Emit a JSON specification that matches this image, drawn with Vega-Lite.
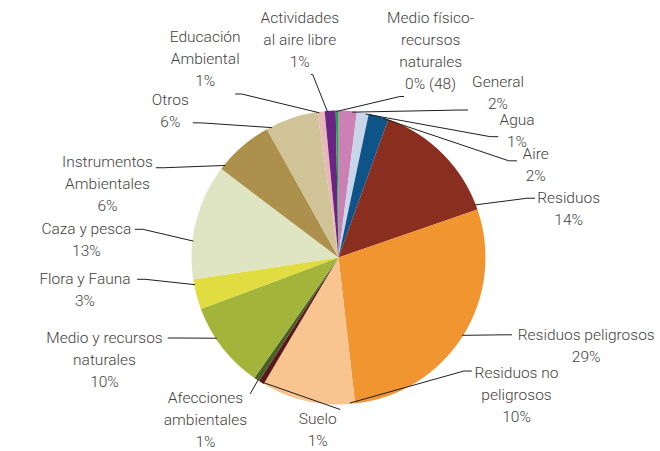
{
  "$schema": "https://vega.github.io/schema/vega-lite/v6.json",
  "width": 660,
  "height": 451,
  "autosize": "none",
  "padding": 0,
  "background": "white",
  "config": {"view": {"stroke": null}},
  "data": {
    "values": [
      {"order": 1, "cat": "General", "value": 2.0, "label": "General\n2%"},
      {"order": 2, "cat": "Agua", "value": 1.3, "label": "Agua\n1%"},
      {"order": 3, "cat": "Aire", "value": 2.2, "label": "Aire\n2%"},
      {"order": 4, "cat": "Residuos", "value": 14.2, "label": "Residuos\n14%"},
      {"order": 5, "cat": "Residuos peligrosos", "value": 28.5, "label": "Residuos peligrosos\n29%"},
      {"order": 6, "cat": "Residuos no peligrosos", "value": 10.3, "label": "Residuos no\npeligrosos\n10%"},
      {"order": 7, "cat": "Suelo", "value": 0.6, "label": "Suelo\n1%"},
      {"order": 8, "cat": "Afecciones ambientales", "value": 0.6, "label": "Afecciones\nambientales\n1%"},
      {"order": 9, "cat": "Medio y recursos naturales", "value": 9.6, "label": "Medio y recursos\nnaturales\n10%"},
      {"order": 10, "cat": "Flora y Fauna", "value": 3.3, "label": "Flora y Fauna\n3%"},
      {"order": 11, "cat": "Caza y pesca", "value": 12.7, "label": "Caza y pesca\n13%"},
      {"order": 12, "cat": "Instrumentos Ambientales", "value": 6.6, "label": "Instrumentos\nAmbientales\n6%"},
      {"order": 13, "cat": "Otros", "value": 5.8, "label": "Otros\n6%"},
      {"order": 14, "cat": "Educación Ambiental", "value": 0.8, "label": "Educación\nAmbiental\n1%"},
      {"order": 15, "cat": "Actividades al aire libre", "value": 1.2, "label": "Actividades\nal aire libre\n1%"},
      {"order": 16, "cat": "Medio físico-recursos naturales", "value": 0.3, "label": "Medio físico-\nrecursos\nnaturales\n0% (48)"}
    ]
  },
  "transform": [
    {"window": [{"op": "sum", "field": "value", "as": "cum"}], "sort": [{"field": "order"}], "frame": [null, 0]},
    {"joinaggregate": [{"op": "sum", "field": "value", "as": "total"}]},
    {"calculate": "2*PI*(datum.cum - datum.value/2)/datum.total", "as": "a"},
    {"calculate": "datum.a*180/PI", "as": "deg"},
    {"calculate": "360*(datum.cum - datum.value)/datum.total", "as": "st"},
    {"calculate": "360*datum.cum/datum.total", "as": "en"},
    {"calculate": "datum.deg < 160 ? datum.deg + 360 : datum.deg", "as": "ua"},
    {"calculate": "split(datum.label, '\\n')", "as": "parts"},
    {"calculate": "length(datum.parts)", "as": "nl"},
    {"calculate": "max(length(datum.parts[0]), length(datum.parts[1] || ''), length(datum.parts[2] || ''), length(datum.parts[3] || ''))", "as": "mc"},
    {"calculate": "datum.mc*7.4", "as": "w"},
    {"calculate": "datum.nl*22", "as": "h"},
    {"calculate": "cos(datum.a)", "as": "cs"},
    {"calculate": "sin(datum.a)", "as": "sn"},
    {"calculate": "(datum.cs*datum.cs*datum.w + datum.sn*datum.sn*datum.h)*(1 + 2.2*pow(max(0, -datum.cs), 8))", "as": "sz"},
    {"calculate": "(datum.sz + 5)*57.2958/sqrt(pow(220*datum.cs, 2) + pow(170*datum.sn, 2))", "as": "szd"},
    {"window": [{"op": "sum", "field": "szd", "as": "SD"}, {"op": "first_value", "field": "szd", "as": "sd0"}, {"op": "row_number", "as": "rn"}], "sort": [{"field": "ua"}], "frame": [null, 0]},
    {"calculate": "datum.SD - (datum.szd + datum.sd0)/2", "as": "G"},
    {"calculate": "datum.ua - datum.G", "as": "b"},
    {"window": [{"op": "sum", "field": "b", "as": "Bc"}], "sort": [{"field": "ua"}], "frame": [null, 0]},
    {"calculate": "{rn: datum.rn, Bc: datum.Bc, b: datum.b}", "as": "obj"},
    {"joinaggregate": [{"op": "values", "field": "obj", "as": "J"}, {"op": "values", "field": "obj", "as": "K"}]},
    {"flatten": ["J"]},
    {"flatten": ["K"]},
    {"calculate": "datum.J.rn", "as": "jr"},
    {"calculate": "datum.K.rn", "as": "kr"},
    {"filter": "datum.jr <= datum.rn && datum.kr >= datum.rn"},
    {"calculate": "(datum.K.Bc - datum.J.Bc + datum.J.b)/(datum.kr - datum.jr + 1)", "as": "avg"},
    {"joinaggregate": [{"op": "min", "field": "avg", "as": "mn"}], "groupby": ["rn", "jr"]},
    {"joinaggregate": [{"op": "max", "field": "mn", "as": "z"}], "groupby": ["rn"]},
    {"filter": "datum.jr == datum.rn && datum.kr == datum.rn"},
    {"calculate": "(datum.G + datum.z)*PI/180", "as": "la"},
    {"calculate": "(((datum.G + datum.z) % 360) + 360) % 360", "as": "lnorm"},
    {"calculate": "min(0.25*(datum.en - datum.st), 2)", "as": "mg"},
    {"calculate": "clamp(datum.lnorm, datum.st + datum.mg, datum.en - datum.mg)*PI/180", "as": "ls"},
    {"calculate": "sin(datum.la)", "as": "s"},
    {"calculate": "cos(datum.la)", "as": "c"},
    {"calculate": "205*datum.s", "as": "ax"},
    {"calculate": "-8 - (datum.c > 0 ? 180 : 160)*datum.c", "as": "ay"},
    {"calculate": "datum.c < 0 ? clamp(8*(datum.s + 0.5*datum.sn), -1, 1) : clamp(1.6*datum.s, -1, 1)", "as": "fx"},
    {"calculate": "datum.c < 0 ? -clamp(-2.2*datum.c - 1.5, 0, 1) : clamp(2.2*datum.c - 0.9, 0, 1)", "as": "fy"},
    {"calculate": "clamp(datum.ax + datum.fx*(datum.w/2 + 4), -334 + datum.w/2, 318 - datum.w/2)", "as": "bx"},
    {"calculate": "datum.ay - datum.fy*(datum.h/2 + 2) + (1 - abs(datum.fy))*(datum.h/2 - 11)", "as": "by0"},
    {"calculate": "clamp(datum.by0, -251 + datum.h/2, 195.5 - datum.h/2)", "as": "by"},
    {"calculate": "datum.fy > 0 ? datum.ay + max(0, datum.by - datum.by0) : datum.ay", "as": "ay2"},
    {"calculate": "datum.by - (datum.nl - 1)*11", "as": "ty"},
    {"calculate": "146*sin(datum.ls)", "as": "x0"},
    {"calculate": "-146*cos(datum.ls)", "as": "y0"},
    {"calculate": "datum.fy < -0.3 ? datum.ax : datum.ax - datum.fx*8", "as": "ex"}
  ],
  "layer": [
    {
      "mark": {"type": "arc", "outerRadius": 147},
      "encoding": {
        "x": {"datum": 0, "type": "quantitative", "scale": {"domain": [-338.5, 321.5], "nice": false, "zero": false}, "axis": null},
        "y": {"datum": 0, "type": "quantitative", "scale": {"domain": [-257.5, 193.5], "nice": false, "zero": false, "reverse": true}, "axis": null},
        "theta": {"field": "value", "type": "quantitative", "stack": true},
        "order": {"field": "order", "type": "quantitative"},
        "color": {
          "field": "cat", "type": "nominal", "legend": null,
          "scale": {
            "domain": ["General", "Agua", "Aire", "Residuos", "Residuos peligrosos", "Residuos no peligrosos", "Suelo", "Afecciones ambientales", "Medio y recursos naturales", "Flora y Fauna", "Caza y pesca", "Instrumentos Ambientales", "Otros", "Educación Ambiental", "Actividades al aire libre", "Medio físico-recursos naturales"],
            "range": ["#cd80b3", "#c8d6e9", "#0e5489", "#8a2e1f", "#f0952f", "#f8c48f", "#5b1818", "#476126", "#a3b43b", "#e1dc3f", "#dfe5c2", "#ad904b", "#cfc397", "#e8b8b8", "#6b2483", "#1ca64c"]
          }
        }
      }
    },
    {
      "mark": {"type": "rule", "color": "#1e1e1e", "strokeWidth": 1},
      "encoding": {
        "x": {"field": "x0", "type": "quantitative"},
        "y": {"field": "y0", "type": "quantitative"},
        "x2": {"field": "ex"},
        "y2": {"field": "ay2"}
      }
    },
    {
      "mark": {"type": "rule", "color": "#1e1e1e", "strokeWidth": 1},
      "encoding": {
        "x": {"field": "ex", "type": "quantitative"},
        "y": {"field": "ay2", "type": "quantitative"},
        "x2": {"field": "ax"},
        "y2": {"field": "ay2"}
      }
    },
    {
      "mark": {"type": "text", "align": "center", "baseline": "middle", "lineBreak": "\n", "lineHeight": 22, "font": "Roboto", "fontSize": 15.5, "fontWeight": 300, "color": "#3f3f3f"},
      "encoding": {
        "x": {"field": "bx", "type": "quantitative"},
        "y": {"field": "ty", "type": "quantitative"},
        "text": {"field": "label", "type": "nominal"}
      }
    }
  ]
}
